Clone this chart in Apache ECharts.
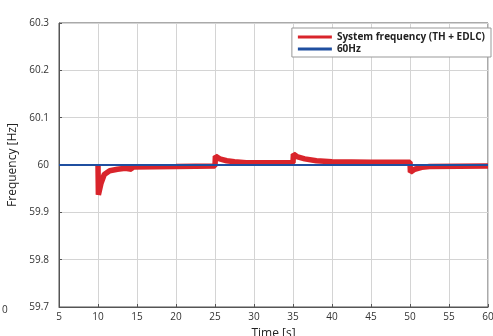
<!DOCTYPE html>
<html>
<head>
<meta charset="utf-8">
<script src="https://cdn.jsdelivr.net/npm/echarts@6/dist/echarts.min.js"></script>
<style>
  html, body { margin: 0; padding: 0; background: #fff; }
  #container { width: 493px; height: 336px; }
</style>
</head>
<body>
<div id="container"></div>
<script>
  // time [s], frequency [Hz]
  var sysTime = [10, 10.05, 10.4, 10.8, 11.5, 12.5, 13.5, 13.6, 14.3, 14.4, 20, 25, 25.05, 25.6, 26.5, 27.5, 29, 35, 35.05, 35.6, 36.5, 38, 40, 45, 50, 50.05, 50.6, 51.5, 52.5, 60];
  var sysFreq = [60.0, 59.937, 59.962, 59.98, 59.988, 59.991, 59.993, 59.991, 59.991, 59.996, 59.997, 59.998, 60.019, 60.013, 60.009, 60.007, 60.005, 60.005, 60.023, 60.017, 60.013, 60.009, 60.007, 60.006, 60.006, 59.985, 59.991, 59.995, 59.997, 59.998];
  var refTime = [5, 60];
  var refFreq = [60, 60];
  var seriesNames = ['System frequency (TH + EDLC)', '60Hz'];

  var dom = document.getElementById('container');
  var myChart = echarts.init(dom);
  var option = {
    animation: false,
    textStyle: { fontFamily: 'Open Sans' },
    grid: { left: 59, right: 5, top: 23, bottom: 29, outerBoundsMode: 'none', containLabel: false },
    legend: {
      right: 2,
      top: 28,
      orient: 'vertical',
      backgroundColor: '#fff',
      borderColor: '#999',
      borderWidth: 1,
      padding: [4, 6, 3, 6],
      itemGap: 2,
      itemWidth: 34,
      itemHeight: 3,
      textStyle: { fontSize: 10, fontWeight: 'bold', color: '#222' },
      data: [
        { name: seriesNames[0], icon: 'rect' },
        { name: seriesNames[1], icon: 'rect' }
      ]
    },
    xAxis: {
      type: 'value',
      min: 5,
      max: 60,
      interval: 5,
      name: 'Time [s]',
      nameLocation: 'middle',
      nameGap: 21,
      nameTextStyle: { fontSize: 12, color: '#222' },
      axisLine: { show: true, lineStyle: { color: '#555' } },
      axisTick: { show: true, inside: true, length: 3, lineStyle: { color: '#555' } },
      axisLabel: { fontSize: 10, color: '#333', margin: 5, showMaxLabel: true, hideOverlap: false },
      splitLine: { show: true, lineStyle: { color: '#d4d4d4' } }
    },
    yAxis: {
      type: 'value',
      min: 59.7,
      max: 60.3,
      interval: 0.1,
      name: 'Frequency [Hz]',
      nameLocation: 'middle',
      nameGap: 35,
      nameTextStyle: { fontSize: 12, color: '#222' },
      axisLine: { show: true, lineStyle: { color: '#555' } },
      axisTick: { show: true, inside: true, length: 3, lineStyle: { color: '#555' } },
      axisLabel: {
        fontSize: 10,
        color: '#333',
        margin: 10,
        formatter: function (v) {
          var r = Math.round(v * 10) / 10;
          return r === 60 ? '60' : r.toFixed(1);
        }
      },
      splitLine: { show: true, lineStyle: { color: '#d4d4d4' } }
    },
    graphic: [
      {
        type: 'rect',
        shape: { x: 59, y: 23, width: 429, height: 284 },
        style: { fill: 'none', stroke: '#555', lineWidth: 1 },
        silent: true
      },
      {
        type: 'text',
        left: 2,
        top: 305,
        style: { text: '0', fontSize: 10, fill: '#333', fontFamily: 'Open Sans' }
      }
    ],
    series: [
      {
        name: seriesNames[0],
        type: 'line',
        data: sysTime.map(function (t, i) { return [t, sysFreq[i]]; }),
        symbol: 'none',
        z: 2,
        lineStyle: { color: '#d9242b', width: 5.5 },
        itemStyle: { color: '#d9242b' }
      },
      {
        name: seriesNames[1],
        type: 'line',
        data: refTime.map(function (t, i) { return [t, refFreq[i]]; }),
        symbol: 'none',
        z: 3,
        lineStyle: { color: '#1f4fa0', width: 2 },
        itemStyle: { color: '#1f4fa0' }
      }
    ]
  };
  myChart.setOption(option, true);
</script>
</body>
</html>
